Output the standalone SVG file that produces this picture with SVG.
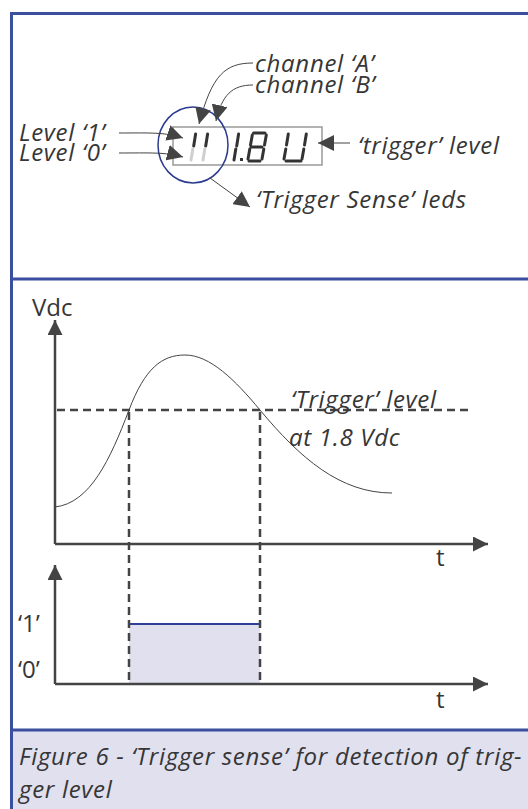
<svg xmlns="http://www.w3.org/2000/svg" width="528" height="809" viewBox="0 0 528 809">
<style>
.t{font-family:"Open Sans","Noto Sans","DejaVu Sans",sans-serif;font-size:24px;fill:#363636}
.i{font-style:italic;letter-spacing:0.7px}
.ax{stroke:#444;stroke-width:2.5;fill:none}
.dash{stroke:#444;stroke-width:2.5;fill:none;stroke-dasharray:8 5}
.thin{stroke:#444;stroke-width:1;fill:none}
.seg{stroke:#333;stroke-width:3;stroke-linecap:round}
.segl{stroke:#cfcfcf;stroke-width:3;stroke-linecap:round}
</style>
<defs>
<marker id="ah" viewBox="0 0 10 10" refX="10" refY="5" markerWidth="16" markerHeight="16" markerUnits="userSpaceOnUse" orient="auto">
<path d="M0,0 L10,5 L0,10 z" fill="#444"/>
</marker>
<marker id="axh" viewBox="0 0 10 10" refX="10" refY="5" markerWidth="6" markerHeight="6" orient="auto">
<path d="M0,0 L10,5 L0,10 z" fill="#444"/>
</marker>
</defs>
<rect x="0" y="0" width="528" height="809" fill="#fff"/>
<!-- frame -->
<rect x="11" y="730" width="520" height="82" fill="#e0e0ee"/>
<path d="M11.5,809 V13.5 H528" fill="none" stroke="#3b4fa0" stroke-width="3"/>
<line x1="11" y1="279" x2="528" y2="279" stroke="#3b4fa0" stroke-width="3"/>
<line x1="11" y1="730" x2="528" y2="730" stroke="#3b4fa0" stroke-width="3"/>

<!-- display -->
<g id="display">
<rect x="173" y="127" width="149" height="38" fill="none" stroke="#999" stroke-width="1.5"/>
<!-- channel leds -->
<line class="seg" x1="193.7" y1="146" x2="195.6" y2="134"/>
<line class="segl" x1="191" y1="160" x2="192.8" y2="149"/>
<line class="seg" x1="205.7" y1="146" x2="207.6" y2="134"/>
<line class="segl" x1="203" y1="160" x2="204.8" y2="149"/>
<!-- 1 -->
<line class="seg" x1="236.7" y1="146" x2="238.6" y2="134"/>
<line class="seg" x1="234" y1="160" x2="235.8" y2="149"/>
<!-- . -->
<rect x="240" y="158" width="3" height="3" fill="#333"/>
<!-- 8 -->
<line class="seg" x1="253.5" y1="133" x2="265" y2="133"/>
<line class="seg" x1="251" y1="147" x2="262" y2="147"/>
<line class="seg" x1="249" y1="161" x2="260" y2="161"/>
<line class="seg" x1="250.5" y1="145" x2="252.3" y2="135"/>
<line class="seg" x1="248" y1="159" x2="249.8" y2="149"/>
<line class="seg" x1="264.5" y1="145" x2="266.3" y2="135"/>
<line class="seg" x1="262" y1="159" x2="263.8" y2="149"/>
<!-- U -->
<line class="seg" x1="286.5" y1="145" x2="288.3" y2="134"/>
<line class="seg" x1="284" y1="159" x2="285.8" y2="149"/>
<line class="seg" x1="304.5" y1="145" x2="306.3" y2="134"/>
<line class="seg" x1="302" y1="159" x2="303.8" y2="149"/>
<line class="seg" x1="286" y1="161" x2="301" y2="161"/>
</g>
<ellipse id="sense-circle" cx="193" cy="145" rx="35" ry="38" fill="none" stroke="#2a3b90" stroke-width="1.5"/>

<g id="labels-top">
<text class="t i" x="255" y="72">channel ‘A’</text>
<text class="t i" x="255" y="93">channel ‘B’</text>
<text class="t i" x="19" y="141">Level ‘1’</text>
<text class="t i" x="19" y="161">Level ‘0’</text>
<text class="t i" x="358" y="154">‘trigger’ level</text>
<text class="t i" x="256" y="208">‘Trigger Sense’ leds</text>
</g>

<g id="connectors">
<path class="thin" d="M253,63 C225,63 212,75 199,124" marker-end="url(#ah)"/>
<path class="thin" d="M253,85 C232,85 222,95 216,121" marker-end="url(#ah)"/>
<path class="thin" d="M119,133 C150,133 165,132 183,138" marker-end="url(#ah)"/>
<path class="thin" d="M119,153 C150,153 165,152 183,157" marker-end="url(#ah)"/>
<line class="thin" x1="350" y1="143" x2="318" y2="143" marker-end="url(#ah)"/>
<line class="thin" x1="210" y1="178" x2="250" y2="207" marker-end="url(#ah)"/>
</g>

<!-- upper graph -->
<g id="graph-upper">
<line class="ax" x1="55" y1="544" x2="55" y2="320" marker-end="url(#axh)"/>
<line class="ax" x1="55" y1="544" x2="488" y2="544" marker-end="url(#axh)"/>
<text class="t" x="32" y="316">Vdc</text>
<text class="t" x="436" y="566">t</text>
<line class="dash" x1="57" y1="410" x2="472" y2="410"/>
<path d="M55,507 C90,503 110,460 129,410 C145,368 162,355 185,355 C210,355 235,380 260,410 C300,458 340,493 392,493" fill="none" stroke="#444" stroke-width="1"/>
<text class="t i" x="291" y="408">‘Trigger’ level</text>
<text class="t i" x="289" y="446">at 1.8 Vdc</text>
</g>

<!-- lower graph -->
<g id="graph-lower">
<rect x="129" y="624" width="131" height="60" fill="#e0e0ee"/>
<line x1="129" y1="624" x2="260" y2="624" stroke="#2e3f99" stroke-width="2"/>
<line class="dash" x1="129" y1="412" x2="129" y2="684"/>
<line class="dash" x1="260" y1="412" x2="260" y2="684"/>
<line class="ax" x1="55" y1="684" x2="55" y2="565" marker-end="url(#axh)"/>
<line class="ax" x1="55" y1="684" x2="488" y2="684" marker-end="url(#axh)"/>
<text class="t" x="18" y="632">‘1’</text>
<text class="t" x="18" y="678">‘0’</text>
<text class="t" x="436" y="708">t</text>
</g>

<g id="caption">
<text class="t i" x="19" y="765">Figure 6 - ‘Trigger sense’ for detection of trig-</text>
<text class="t i" x="19" y="798">ger level</text>
</g>
</svg>
